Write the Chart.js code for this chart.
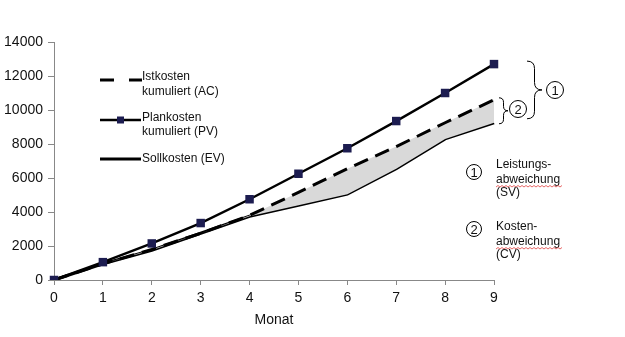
<!DOCTYPE html>
<html>
<head>
<meta charset="utf-8">
<script src="https://cdn.jsdelivr.net/npm/chart.js@4/dist/chart.umd.min.js"></script>
<style>
  body { margin: 0; background: #fff; }
  #wrap { width: 625px; height: 337px; }
</style>
</head>
<body>
<div id="wrap"><canvas id="chart"></canvas></div>
<script>
// Monate 0..9
const monate = [0, 1, 2, 3, 4, 5, 6, 7, 8, 9];
// Plankosten kumuliert (PV)
const plankosten = [0, 1050, 2150, 3350, 4750, 6250, 7750, 9350, 11000, 12700];
// Istkosten kumuliert (AC)
const istkosten = [0, 950, 1800, 2750, 3800, 5150, 6550, 7850, 9250, 10600];
// Sollkosten (EV)
const sollkosten = [0, 950, 1750, 2750, 3750, 4400, 5050, 6550, 8300, 9250];

const font = "Arial, 'Liberation Sans', sans-serif";

function klammer(ctx, x, y1, y2, w) {
    const ym = (y1 + y2) / 2;
    const h = w / 2;
    ctx.beginPath();
    ctx.moveTo(x, y1);
    ctx.quadraticCurveTo(x + h, y1, x + h, y1 + h);
    ctx.lineTo(x + h, ym - h);
    ctx.quadraticCurveTo(x + h, ym, x + w, ym);
    ctx.quadraticCurveTo(x + h, ym, x + h, ym + h);
    ctx.lineTo(x + h, y2 - h);
    ctx.quadraticCurveTo(x + h, y2, x, y2);
    ctx.stroke();
}

function kreis(ctx, x, y, r, txt) {
    ctx.beginPath();
    ctx.arc(x, y, r, 0, Math.PI * 2);
    ctx.stroke();
    ctx.textAlign = "center";
    ctx.textBaseline = "middle";
    ctx.font = "13px " + font;
    ctx.fillText(txt, x, y + 1);
}

function wellen(ctx, x1, x2, y) {
    ctx.save();
    ctx.strokeStyle = "#e04040";
    ctx.lineWidth = 0.8;
    ctx.beginPath();
    ctx.moveTo(x1, y);
    let up = true;
    for (let x = x1 + 2; x <= x2; x += 2) {
        ctx.lineTo(x, up ? y - 1.5 : y);
        up = !up;
    }
    ctx.stroke();
    ctx.restore();
}

const extras = {
    id: "extras",
    afterDraw(chart) {
        const ctx = chart.ctx;
        const ys = chart.scales.y;
        ctx.save();
        ctx.strokeStyle = "#000";
        ctx.fillStyle = "#111";

        // Legende
        ctx.lineWidth = 3;
        ctx.setLineDash([14, 15]);
        ctx.beginPath(); ctx.moveTo(100, 80); ctx.lineTo(142, 80); ctx.stroke();
        ctx.setLineDash([]);
        ctx.lineWidth = 2.5;
        ctx.beginPath(); ctx.moveTo(100, 120); ctx.lineTo(141, 120); ctx.stroke();
        ctx.fillStyle = "#1c1c50";
        ctx.fillRect(117, 116.5, 7, 7);
        ctx.lineWidth = 3;
        ctx.beginPath(); ctx.moveTo(100, 159); ctx.lineTo(141, 159); ctx.stroke();

        ctx.fillStyle = "#111";
        ctx.font = "12px " + font;
        ctx.textAlign = "left";
        ctx.textBaseline = "middle";
        ctx.fillText("Istkosten", 142, 77);
        ctx.fillText("kumuliert (AC)", 142, 92);
        ctx.fillText("Plankosten", 142, 118);
        ctx.fillText("kumuliert (PV)", 142, 132);
        ctx.fillText("Sollkosten (EV)", 142, 159);

        // Klammern
        ctx.lineWidth = 1;
        const yPV = ys.getPixelForValue(plankosten[9]);
        const yAC = ys.getPixelForValue(istkosten[9]);
        const yEV = ys.getPixelForValue(sollkosten[9]);
        klammer(ctx, 527, yPV - 3, yEV - 4, 15);
        klammer(ctx, 499, yAC - 2, yEV + 1, 9);
        kreis(ctx, 555, 90, 8.5, "1");
        kreis(ctx, 518, 109, 8.5, "2");

        // Erklärung
        kreis(ctx, 474, 172, 7.5, "1");
        kreis(ctx, 474, 229, 7.5, "2");
        ctx.font = "12px " + font;
        ctx.textAlign = "left";
        ctx.textBaseline = "middle";
        ctx.fillText("Leistungs-", 496, 165);
        ctx.fillText("abweichung", 496, 180);
        ctx.fillText("(SV)", 496, 193);
        ctx.fillText("Kosten-", 496, 227);
        ctx.fillText("abweichung", 496, 242);
        ctx.fillText("(CV)", 496, 255);
        wellen(ctx, 496, 562, 187);
        wellen(ctx, 496, 562, 249);
        ctx.restore();
    }
};

new Chart(document.getElementById("chart").getContext("2d"), {
    type: "line",
    data: {
        labels: monate,
        datasets: [
            {
                label: "Plankosten kumuliert (PV)",
                data: plankosten,
                borderColor: "#000",
                borderWidth: 2.5,
                pointStyle: "rect",
                pointRadius: 6,
                pointBackgroundColor: "#1c1c50",
                pointBorderColor: "#1c1c50",
                pointBorderWidth: 0,
                fill: false,
                tension: 0
            },
            {
                label: "Istkosten kumuliert (AC)",
                data: istkosten,
                borderColor: "#000",
                borderWidth: 3,
                borderDash: [15, 8],
                pointRadius: 0,
                fill: "+1",
                backgroundColor: "#d9d9d9",
                tension: 0
            },
            {
                label: "Sollkosten (EV)",
                data: sollkosten,
                borderColor: "#000",
                borderWidth: 3,
                pointRadius: 0,
                fill: false,
                tension: 0
            }
        ]
    },
    options: {
        responsive: true,
        maintainAspectRatio: false,
        animation: false,
        layout: { padding: { left: 0, right: 131, top: 42, bottom: 0 } },
        scales: {
            x: {
                offset: false,
                grid: { drawOnChartArea: false, tickLength: 5, color: "#888" },
                border: { color: "#888" },
                ticks: { color: "#111", font: { size: 14, family: font }, padding: 5, maxRotation: 0 },
                title: { display: true, text: "Monat", color: "#111", font: { size: 14, family: font }, padding: { top: 0, bottom: 8 } },
                afterFit: (s) => { s.height = 57; }
            },
            y: {
                min: 0,
                max: 14000,
                ticks: { stepSize: 2000, color: "#111", font: { size: 14, family: font }, padding: 5, callback: (v) => String(v) },
                grid: { drawOnChartArea: false, tickLength: 6, color: "#888" },
                border: { color: "#888" },
                afterFit: (s) => { s.width = 54; }
            }
        },
        plugins: {
            legend: { display: false },
            tooltip: { enabled: false }
        }
    },
    plugins: [extras]
});
</script>
</body>
</html>
